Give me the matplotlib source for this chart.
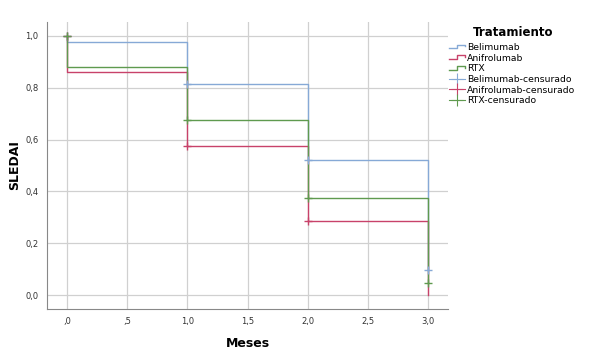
import matplotlib.pyplot as plt
from matplotlib.lines import Line2D
from matplotlib.legend_handler import HandlerLine2D
from matplotlib.ticker import FuncFormatter

# Kaplan-Meier style step data (time in months, SLEDAI proportion)
meses = [0, 1, 2, 3]
belimumab = [0.975, 0.815, 0.522, 0.097]
anifrolumab = [0.862, 0.575, 0.287, 0.0]
rtx = [0.881, 0.676, 0.376, 0.047]

# censored points
bel_cens_x = [0, 1, 2, 3]
bel_cens_y = [1.0, 0.815, 0.522, 0.097]
ani_cens_x = [0, 1, 2]
ani_cens_y = [1.0, 0.575, 0.287]
rtx_cens_x = [0, 1, 2, 3]
rtx_cens_y = [1.0, 0.676, 0.376, 0.047]

names = ['Belimumab', 'Anifrolumab', 'RTX']
colors = ['#86a9d6', '#c8426a', '#5f9a4f']


def step_xy(vals):
    xs, ys = [0], [1.0]
    for i, v in enumerate(vals):
        xs += [meses[i], meses[i + 1] if i + 1 < len(meses) else meses[i]]
        ys += [v, v]
    return xs, ys


class StepHandler(HandlerLine2D):
    def create_artists(self, legend, orig_handle, xdescent, ydescent,
                       width, height, fontsize, trans):
        x0, x1 = -xdescent, -xdescent + width
        xm = x0 + width * 0.5
        ylo = -ydescent + height * 0.25
        yhi = -ydescent + height * 0.8
        ymid = -ydescent + height * 0.55
        ln = Line2D([x0, xm, xm, x1, x1], [ylo, ylo, yhi, yhi, ymid],
                    color=orig_handle.get_color(), lw=1.0)
        ln.set_transform(trans)
        return [ln]


fig = plt.figure(figsize=(6, 3.59), dpi=100)
ax = fig.add_axes([0.078, 0.139, 0.669, 0.8])

for vals, c in zip([belimumab, anifrolumab, rtx], colors):
    xs, ys = step_xy(vals)
    ax.plot(xs, ys, color=c, lw=1.0)

for cx, cy, c in [(bel_cens_x, bel_cens_y, colors[0]),
                  (ani_cens_x, ani_cens_y, colors[1]),
                  (rtx_cens_x, rtx_cens_y, colors[2])]:
    ax.plot(cx, cy, '+', color=c, ms=6, mew=1.0, zorder=3)

ax.set_xlim(-0.166, 3.166)
ax.set_ylim(-0.054, 1.054)
ax.set_xticks([0, 0.5, 1, 1.5, 2, 2.5, 3])
ax.set_yticks([0, 0.2, 0.4, 0.6, 0.8, 1.0])


def fmt_x(v, p):
    s = f'{v:.1f}'.replace('.', ',')
    return s[1:] if s.startswith('0') else s


ax.xaxis.set_major_formatter(FuncFormatter(fmt_x))
ax.yaxis.set_major_formatter(FuncFormatter(lambda v, p: f'{v:.1f}'.replace('.', ',')))
ax.tick_params(length=0, labelsize=6, colors='#333333', pad=6)
ax.grid(True, color='#d0d0d0', lw=0.9)
ax.set_axisbelow(True)
for s in ['top', 'right']:
    ax.spines[s].set_visible(False)
for s in ['left', 'bottom']:
    ax.spines[s].set_color('#888888')

ax.set_xlabel('Meses', fontsize=9, fontweight='bold')
ax.set_ylabel('SLEDAI', fontsize=9, fontweight='bold')
ax.xaxis.set_label_coords(0.5, -0.098)
ax.yaxis.set_label_coords(-0.065, 0.5)

handles = [Line2D([], [], color=c) for c in colors]
handles += [Line2D([], [], color=c, marker='+', ls='-', lw=0.8, ms=9, mew=0.8) for c in colors]
labels = names + [n + '-censurado' for n in names]
hmap = {h: StepHandler() for h in handles[:3]}
fig.text(513 / 600, 1 - 32 / 359, 'Tratamiento', ha='center', va='center',
         fontsize=8.5, fontweight='bold')
fig.legend(handles, labels, loc='upper left', bbox_to_anchor=(0.748, 1 - 43 / 359),
           frameon=False, fontsize=6.7, handler_map=hmap, handlelength=1.7,
           handletextpad=0.25, labelspacing=0.18, borderaxespad=0, borderpad=0)

fig.savefig('out.png', dpi=100)
